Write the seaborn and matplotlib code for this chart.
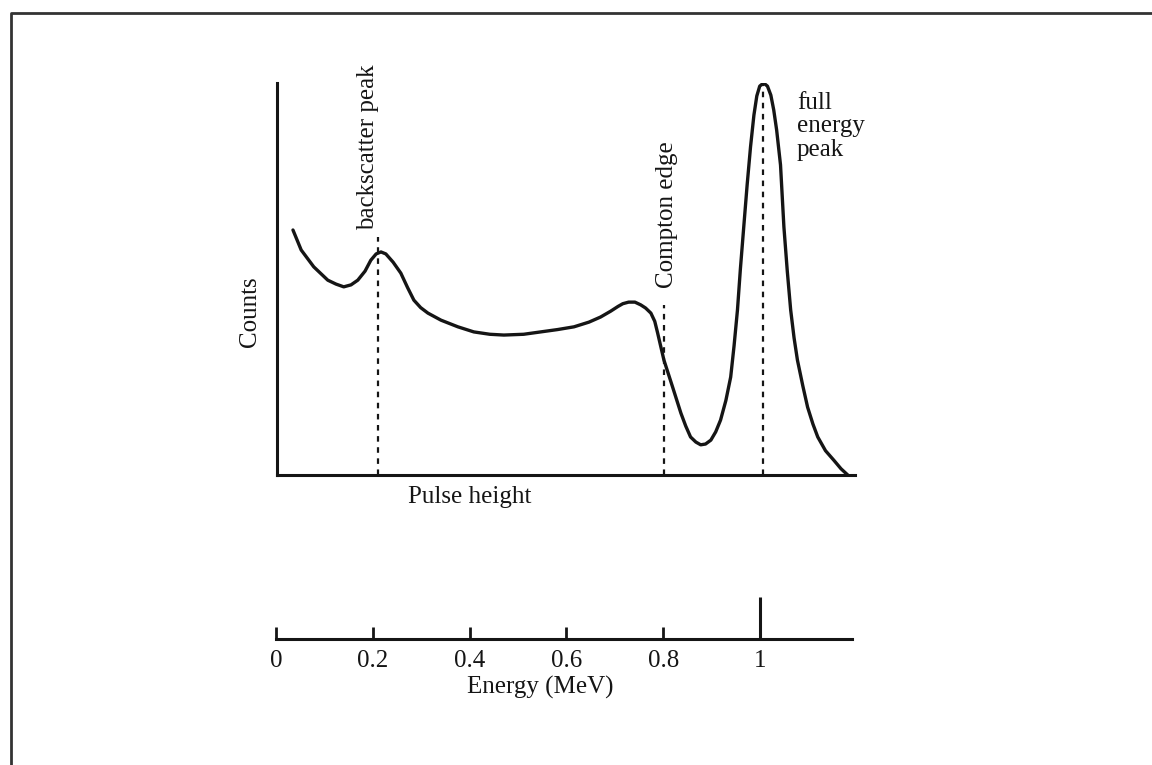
import matplotlib
matplotlib.use("Agg")
import matplotlib.pyplot as plt
from matplotlib.lines import Line2D
import seaborn as sns
import pandas as pd

# spectrum: energy (MeV) vs relative counts
energy = [0.033, 0.050, 0.076, 0.105, 0.122, 0.138, 0.153, 0.167, 0.182, 0.194,
          0.205, 0.215, 0.225, 0.240, 0.256, 0.270, 0.283, 0.297, 0.312, 0.339,
          0.374, 0.407, 0.440, 0.469, 0.510, 0.545, 0.580, 0.614, 0.645, 0.669,
          0.690, 0.705, 0.715, 0.727, 0.740, 0.752, 0.762, 0.773, 0.781, 0.787,
          0.793, 0.800, 0.818, 0.835, 0.845, 0.855, 0.866, 0.876, 0.886, 0.897,
          0.907, 0.917, 0.928, 0.938, 0.945, 0.952, 0.958, 0.965, 0.972, 0.979,
          0.986, 0.992, 0.998, 1.006, 1.014, 1.021, 1.027, 1.033, 1.041, 1.048,
          1.055, 1.062, 1.069, 1.076, 1.087, 1.097, 1.108, 1.118, 1.134, 1.151,
          1.166, 1.180]
counts = [0.625, 0.574, 0.531, 0.497, 0.487, 0.480, 0.485, 0.497, 0.520, 0.548,
          0.564, 0.569, 0.564, 0.543, 0.515, 0.478, 0.446, 0.427, 0.413, 0.395,
          0.378, 0.365, 0.359, 0.357, 0.359, 0.365, 0.371, 0.378, 0.390, 0.403,
          0.418, 0.430, 0.437, 0.441, 0.441, 0.434, 0.426, 0.413, 0.392, 0.362,
          0.330, 0.293, 0.224, 0.158, 0.125, 0.097, 0.084, 0.077, 0.079, 0.089,
          0.110, 0.140, 0.190, 0.250, 0.330, 0.421, 0.525, 0.633, 0.740, 0.837,
          0.918, 0.967, 0.992, 1.000, 0.992, 0.969, 0.931, 0.880, 0.791, 0.633,
          0.520, 0.421, 0.350, 0.293, 0.228, 0.173, 0.130, 0.097, 0.062, 0.038,
          0.016, 0.000]

# dashed markers
mark_energy = [0.209, 0.800, 1.005]
mark_top = [0.607, 0.434, 0.995]

# energy scale
tick_values = [0, 0.2, 0.4, 0.6, 0.8, 1.0]
tick_labels = ["0", "0.2", "0.4", "0.6", "0.8", "1"]
line_energy = [1.0]
line_height = [1.0]

spec = pd.DataFrame({"energy": energy, "counts": counts})

sns.set_style("white")
plt.rcParams["font.family"] = ["Liberation Serif", "DejaVu Serif"]
ink = "#151515"
fs = 18

fig = plt.figure(figsize=(11.52, 7.65), dpi=100)

# outer frame (left and top)
fig.add_artist(Line2D([11 / 1152, 11 / 1152, 1.0], [0.0, 1 - 13 / 765, 1 - 13 / 765],
                      transform=fig.transFigure, color="#333333", lw=2.0))

# top: pulse height spectrum
ax = fig.add_axes([277 / 1152, 1 - 475 / 765, 578 / 1152, 392 / 765])
sns.lineplot(data=spec, x="energy", y="counts", ax=ax, color=ink, lw=2.4, sort=False,
             solid_joinstyle="round", solid_capstyle="round")
ax.vlines(mark_energy, 0, mark_top, colors=ink, lw=1.6, linestyles=(0, (2.5, 2.5)))
ax.set_xlim(0, 1.195)
ax.set_ylim(0, 1.0)
ax.set_xticks([])
ax.set_yticks([])
for s in ["top", "right"]:
    ax.spines[s].set_visible(False)
for s in ["left", "bottom"]:
    ax.spines[s].set_color(ink)
    ax.spines[s].set_linewidth(2.2)
ax.set_xlabel("Pulse height", fontsize=fs, color=ink)
ax.xaxis.set_label_coords(0.334, -0.028)
ax.set_ylabel("Counts", fontsize=fs, color=ink)
ax.yaxis.set_label_coords(-0.028, 0.416)

ax.text(0.188, 0.837, "backscatter peak", rotation=90, ha="center", va="center",
        fontsize=fs, color=ink)
ax.text(0.806, 0.664, "Compton edge", rotation=90, ha="center", va="center",
        fontsize=fs, color=ink)
ax.text(1.075, 0.978, "full\nenergy\npeak", ha="left", va="top",
        fontsize=fs, color=ink, linespacing=1.1)

# bottom: energy scale
bx = fig.add_axes([276 / 1152, 1 - 639 / 765, 576 / 1152, 42 / 765])
bx.vlines(line_energy, 0, line_height, colors=ink, lw=2.2)
bx.set_xlim(0, 1.19)
bx.set_ylim(0, 1)
bx.set_yticks([])
bx.set_xticks(tick_values)
bx.set_xticklabels(tick_labels, fontsize=fs, color=ink)
bx.tick_params(axis="x", direction="in", length=9, width=2, color=ink, pad=8, bottom=True)
for s in ["top", "right", "left"]:
    bx.spines[s].set_visible(False)
bx.spines["bottom"].set_color(ink)
bx.spines["bottom"].set_linewidth(2.2)
bx.set_xlabel("Energy (MeV)", fontsize=fs, color=ink, labelpad=0)
bx.xaxis.set_label_coords(0.458, -0.88)

fig.savefig("out.png", dpi=100, facecolor="white")
